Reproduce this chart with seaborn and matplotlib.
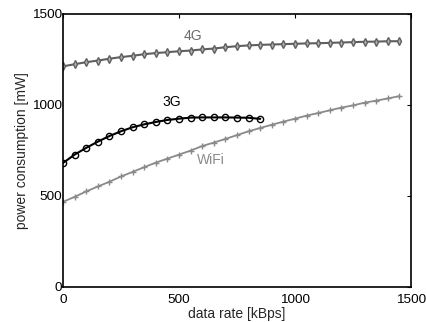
import matplotlib
matplotlib.use("Agg")
import matplotlib.pyplot as plt
import seaborn as sns
import pandas as pd
import numpy as np

# ---- data ----
rate_4g = list(range(0, 1451, 50))
power_4g = [1210, 1222, 1233, 1242, 1252, 1261, 1268, 1277, 1283, 1288,
            1293, 1297, 1303, 1308, 1315, 1321, 1325, 1328, 1330, 1332,
            1334, 1336, 1337, 1339, 1341, 1343, 1345, 1346, 1348, 1348]

rate_3g = list(range(0, 851, 50))
power_3g = [680, 726, 763, 797, 828, 854, 876, 892, 905, 916,
            923, 929, 930, 930, 930, 929, 928, 922]

rate_wifi = list(range(0, 1451, 50))
power_wifi = [467, 494, 524, 551, 577, 606, 631, 657, 682, 704,
              726, 748, 773, 792, 812, 833, 854, 872, 890, 907,
              923, 940, 954, 969, 984, 996, 1011, 1022, 1034, 1047]

x_ticks = [0, 500, 1000, 1500]
y_ticks = [0, 500, 1000, 1500]

sns.set_style("white")
plt.rcParams['font.family'] = ['Liberation Sans', 'DejaVu Sans']

fig = plt.figure(figsize=(4.26, 3.22), dpi=100)
ax = fig.add_axes([0.148, 0.109, 0.817, 0.849])

df4 = pd.DataFrame({"rate": rate_4g, "power": power_4g})
df3 = pd.DataFrame({"rate": rate_3g, "power": power_3g})
dfw = pd.DataFrame({"rate": rate_wifi, "power": power_wifi})

sns.lineplot(data=dfw, x="rate", y="power", ax=ax, color="#8a8a8a",
             linewidth=1.3, linestyle="-", dashes=False,
             marker="+", markersize=4, markeredgewidth=1.0,
             markeredgecolor="#8a8a8a")
sns.lineplot(data=df4, x="rate", y="power", ax=ax, color="#5f5f5f",
             linewidth=1.5, linestyle="-", dashes=False,
             marker="d", markersize=4, markerfacecolor="#b0b0b0",
             markeredgecolor="#5f5f5f", markeredgewidth=1.0)
sns.lineplot(data=df3, x="rate", y="power", ax=ax, color="black",
             linewidth=1.5, linestyle="-", dashes=False,
             marker="o", markersize=4.5, markerfacecolor="none",
             markeredgecolor="black", markeredgewidth=1.0)

ax.text(560, 1374, "4G", color="#6a6a6a", fontsize=10, ha="center", va="center")
ax.text(470, 1012, "3G", color="black", fontsize=10, ha="center", va="center")
ax.text(636, 695, "WiFi", color="#8a8a8a", fontsize=10, ha="center", va="center")

ax.set_xlim(0, 1500)
ax.set_ylim(0, 1500)
ax.set_xticks(x_ticks)
ax.set_yticks(y_ticks)
ax.set_xticklabels([str(t) for t in x_ticks])
ax.set_yticklabels([str(t) for t in y_ticks])
ax.tick_params(direction="in", length=3, width=0.8, top=True, right=True,
               labelsize=9.7, colors="black")
ax.tick_params(axis="x", pad=5)
ax.tick_params(axis="y", pad=1)
ax.set_xlabel("data rate [kBps]", fontsize=10, labelpad=1)
ax.set_ylabel("power consumption [mW]", fontsize=10, labelpad=2)
for s in ax.spines.values():
    s.set_visible(True)
    s.set_color("black")
    s.set_linewidth(1.2)

fig.savefig("out.png", dpi=100)
